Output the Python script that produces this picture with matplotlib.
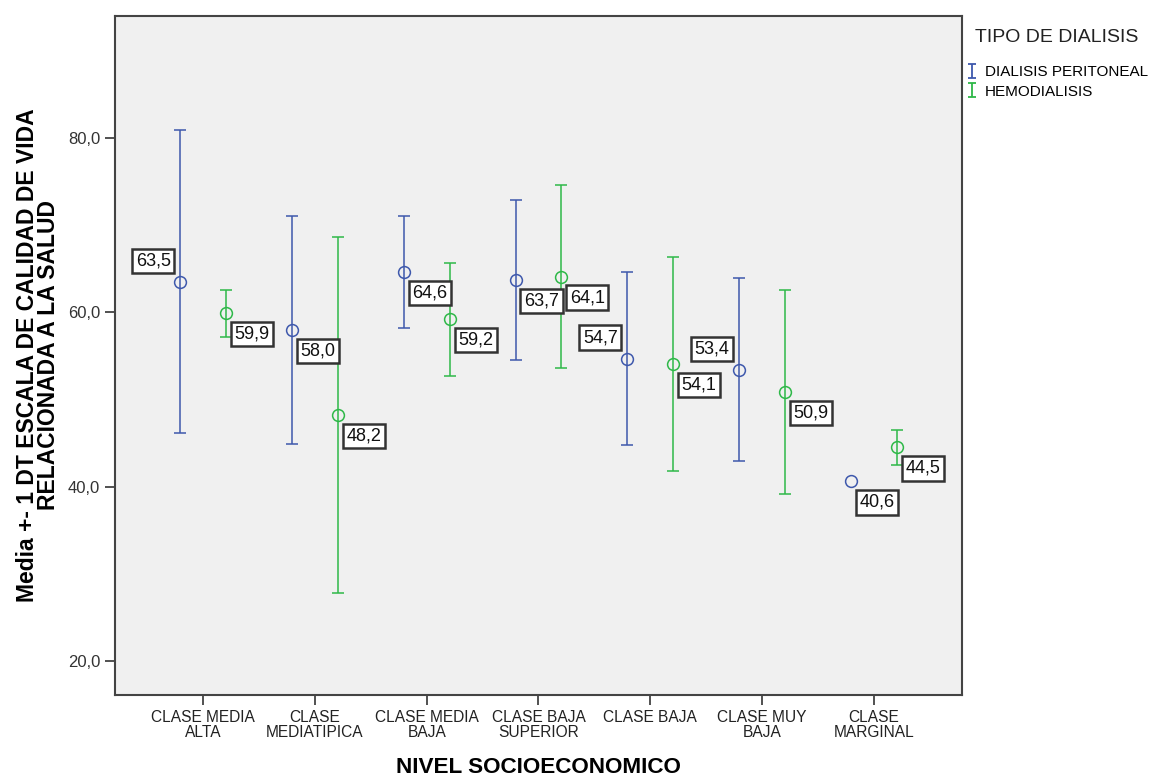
import numpy as np
import matplotlib.pyplot as plt
from matplotlib.lines import Line2D
from matplotlib.path import Path

# Datos
categorias = ["CLASE MEDIA\nALTA", "CLASE\nMEDIATIPICA", "CLASE MEDIA\nBAJA",
              "CLASE BAJA\nSUPERIOR", "CLASE BAJA", "CLASE MUY\nBAJA", "CLASE\nMARGINAL"]
media_peritoneal = [63.5, 58.0, 64.6, 63.7, 54.7, 53.4, 40.6]
dt_peritoneal = [17.4, 13.1, 6.4, 9.2, 9.9, 10.5, 0.0]
media_hemo = [59.9, 48.2, 59.2, 64.1, 54.1, 50.9, 44.5]
dt_hemo = [2.7, 20.4, 6.5, 10.5, 12.3, 11.7, 2.0]
# posición de la etiqueta: 'ul' arriba-izquierda, 'lr' abajo-derecha
pos_peritoneal = ['ul', 'lr', 'lr', 'lr', 'ul', 'ul', 'lr']
pos_hemo = ['lr', 'lr', 'lr', 'lr', 'lr', 'lr', 'lr']

azul = '#3e58ac'
verde = '#2eb848'

plt.rcParams['font.family'] = ['Liberation Sans', 'DejaVu Sans']

fig = plt.figure(figsize=(11.53, 7.8), dpi=100)
ax = fig.add_axes([0.0997, 0.109, 0.7346, 0.8705])
ax.set_facecolor('#f0f0f0')

x = np.arange(len(categorias))
desp = 0.205


def dibujar(xs, medias, dts, color, posiciones):
    medias = np.array(medias)
    dts = np.array(dts)
    con_dt = dts > 0
    # barras de error solo donde hay desviación
    ax.errorbar(xs[con_dt], medias[con_dt], yerr=dts[con_dt], fmt='none',
                ecolor=color, elinewidth=1.1, capsize=4.3, capthick=1.1)
    ax.plot(xs, medias, 'o', markerfacecolor='none', markeredgecolor=color,
            markersize=8.5, markeredgewidth=1.1)
    for xi, m, p in zip(xs, medias, posiciones):
        off = (-27, 21) if p == 'ul' else (26, -21)
        ax.annotate(f"{m:.1f}".replace('.', ','), (xi, m), xytext=off,
                    textcoords='offset pixels', ha='center', va='center',
                    fontsize=13, color='#111111',
                    bbox=dict(boxstyle='square,pad=0.2', fc='white',
                              ec='#333333', lw=1.8))


dibujar(x - desp, media_peritoneal, dt_peritoneal, azul, pos_peritoneal)
dibujar(x + desp, media_hemo, dt_hemo, verde, pos_hemo)

ax.set_xlim(-0.79, 6.79)
ax.set_ylim(16.1, 94)
ax.set_yticks([20, 40, 60, 80])
ax.set_yticklabels(['20,0', '40,0', '60,0', '80,0'], fontsize=12, color='#333333')
ax.set_xticks(x)
ax.set_xticklabels(categorias, fontsize=11.2, color='#222222', linespacing=1.05)
ax.tick_params(direction='out', length=7, width=1.2, color='#333333')
for s in ax.spines.values():
    s.set_color('#444444')
    s.set_linewidth(1.5)

ax.set_xlabel('NIVEL SOCIOECONOMICO', fontsize=16.2, fontweight='bold', labelpad=12)
ax.set_ylabel('Media +- 1 DT ESCALA DE CALIDAD DE VIDA\nRELACIONADA A LA SALUD',
              fontsize=16.5, fontweight='bold', linespacing=0.88, labelpad=6)

# marcador en forma de "I" como en la leyenda de SPSS
marca_i = Path([(-0.28, -0.5), (0.28, -0.5), (0, -0.5), (0, 0.5), (-0.28, 0.5), (0.28, 0.5)],
               [Path.MOVETO, Path.LINETO, Path.MOVETO, Path.LINETO, Path.MOVETO, Path.LINETO])
handles = [Line2D([], [], color=azul, marker=marca_i, linestyle='none', markersize=10,
                  markeredgewidth=1.3),
           Line2D([], [], color=verde, marker=marca_i, linestyle='none', markersize=10,
                  markeredgewidth=1.3)]
fig.text(975 / 1153, 1 - 37 / 780, 'TIPO DE DIALISIS', fontsize=14, va='center',
         ha='left', color='#222222')
fig.legend(handles, ['DIALISIS PERITONEAL', 'HEMODIALISIS'], loc='upper left',
           bbox_to_anchor=(966 / 1153, 1 - 65 / 780), frameon=False, fontsize=11,
           handletextpad=0.45, handlelength=0.8, labelspacing=0.37,
           borderaxespad=0, borderpad=0)

fig.savefig('out.png', dpi=100)
